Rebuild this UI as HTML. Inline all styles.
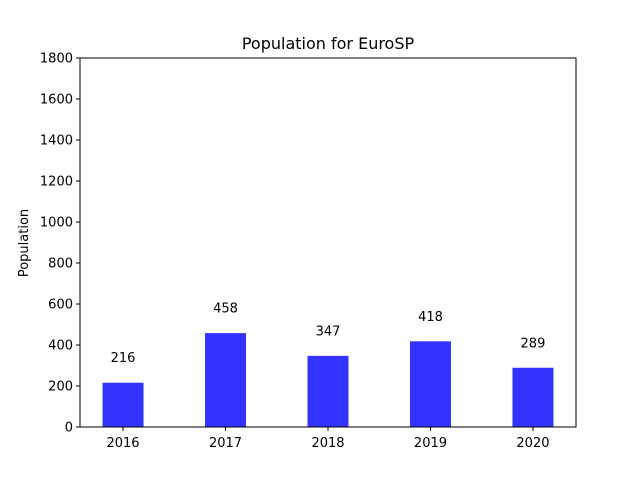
<!DOCTYPE html>
<html><head><meta charset="utf-8"><style>body{margin:0;background:#fff}svg{display:block;font-family:"DejaVu Sans","Liberation Sans",sans-serif}</style></head>
<body>
<svg id="c" width="640" height="480"></svg>
<script>
const categories=["2016","2017","2018","2019","2020"];
const values=[216,458,347,418,289];
const yTicks=[0,200,400,600,800,1000,1200,1400,1600,1800];
const L=80,R=576,T=58,B=427;
const xMin=-0.42,xMax=4.42,yMax=1800;
const xs=i=>L+(i-xMin)/(xMax-xMin)*(R-L);
const ys=v=>B-v/yMax*(B-T);
const svg=document.getElementById('c');
const NS='http://www.w3.org/2000/svg';
function mk(t,a,txt){const e=document.createElementNS(NS,t);for(const k in a)e.setAttribute(k,a[k]);if(txt!=null)e.textContent=txt;svg.appendChild(e);return e;}
let e=mk('text',{x:328,y:49,'font-size':16,'text-anchor':'middle',fill:'#000'},'Population for EuroSP');


e=mk('text',{x:28,y:243,'font-size':13,'text-anchor':'middle',transform:'rotate(-90 28 243)'},'Population');


const bw=(xs(0.4)-xs(0));
values.forEach((v,i)=>{
 let r=mk('rect',{x:xs(i)-bw/2,y:ys(v),width:bw,height:B-ys(v),fill:'#3333ff'});
 
 
 let t=mk('text',{x:xs(i),y:ys(v+100),'font-size':13,'text-anchor':'middle'},String(v));
 
 
 mk('line',{x1:xs(i),x2:xs(i),y1:B,y2:B+4,stroke:'#000'});
 let xl=mk('text',{x:xs(i),y:B+20,'font-size':13,'text-anchor':'middle'},categories[i]);
 
 
});
yTicks.forEach(v=>{
 mk('line',{x1:L-4,x2:L,y1:ys(v),y2:ys(v),stroke:'#000'});
 let t=mk('text',{x:L-7,y:ys(v)+4.5,'font-size':13,'text-anchor':'end'},String(v));
 
 
});
e=mk('rect',{x:L,y:T,width:R-L,height:B-T,fill:'none',stroke:'#000','stroke-width':1});


</script>
</body></html>
